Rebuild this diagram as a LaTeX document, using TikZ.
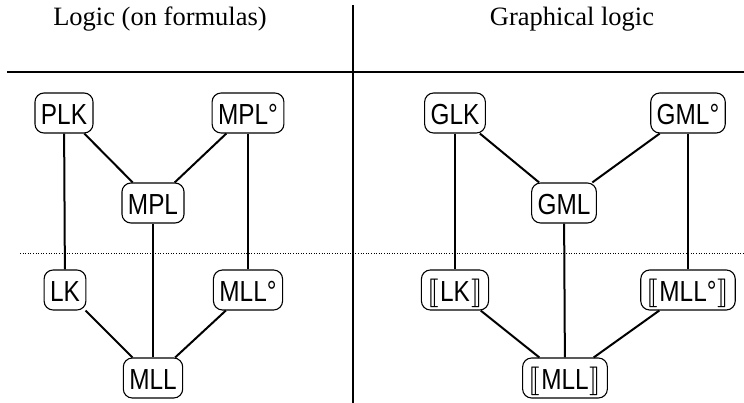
\documentclass[tikz,border=0pt]{standalone}
\usepackage{stmaryrd}
\usepackage{graphicx}
\usepackage{fontspec}
\setmainfont{Liberation Serif}
\setsansfont{Liberation Sans}
\newfontfamily\nodefont[FakeStretch=0.84]{Liberation Sans}
\newcommand{\mylbk}{\raisebox{0.06em}[\height][0pt]{\scalebox{1.15}{$\llbracket$}}\kern0.04em}
\newcommand{\myrbk}{\kern0.04em\raisebox{0.06em}[\height][0pt]{\scalebox{1.15}{$\rrbracket$}}}
\begin{document}
\begin{tikzpicture}[x=1pt,y=-1pt,
  lbox/.style={draw,rounded corners=9pt,line width=1.1pt,font=\nodefont\fontsize{29}{30}\selectfont,
    inner xsep=6pt,inner ysep=0pt,minimum height=40pt,text height=23.5pt,text depth=0pt},
  conn/.style={line width=2pt},
  hdr/.style={font=\fontsize{26.5}{28}\selectfont,anchor=base,inner sep=0pt}]
\useasboundingbox (0,0) rectangle (744,403);
% frame lines
\coordinate (vt) at (353,5);
\coordinate (vb) at (353,403);
\coordinate (hl) at (7,72);
\coordinate (hr) at (744,72);
\coordinate (dl) at (20,253);
\coordinate (dr) at (744,253);
\draw[line width=2pt] (vt) -- (vb);
\draw[line width=2.4pt] (hl) -- (hr);
\draw[dotted,line width=0.6pt] (dl) -- (dr);
% headers
\node[hdr] (h1) at (160,26) {Logic (on formulas)};
\node[hdr] (h2) at (572,26) {Graphical logic};
% left nodes
\node[lbox] (PLK) at (64,113) {PLK};
\node[lbox] (MPLo) at (248,113) {MPL°};
\node[lbox] (MPL) at (153,203) {MPL};
\node[lbox] (LK) at (65,290) {LK};
\node[lbox] (MLLo) at (248,290) {MLL°};
\node[lbox] (MLL) at (153,378) {MLL};
% right nodes
\node[lbox] (GLK) at (455,113) {GLK};
\node[lbox] (GMLo) at (688,113) {GML°};
\node[lbox] (GML) at (564,203) {GML};
\node[lbox] (sLK) at (455,290) {\mylbk LK\myrbk};
\node[lbox] (sMLLo) at (688,290) {\mylbk MLL°\myrbk};
\node[lbox] (sMLL) at (565,378) {\mylbk MLL\myrbk};
% left connectors
\draw[conn] (PLK) -- (MPL);
\draw[conn] (MPLo) -- (MPL);
\draw[conn] (PLK) -- (LK);
\draw[conn] (MPLo) -- (MLLo);
\draw[conn] (MPL) -- (MLL);
\draw[conn] (LK) -- (MLL);
\draw[conn] (MLLo) -- (MLL);
% right connectors
\draw[conn] (GLK) -- (GML);
\draw[conn] (GMLo) -- (GML);
\draw[conn] (GLK) -- (sLK);
\draw[conn] (GMLo) -- (sMLLo);
\draw[conn] (GML) -- (sMLL);
\draw[conn] (sLK) -- (sMLL);
\draw[conn] (sMLLo) -- (sMLL);
\end{tikzpicture}
\end{document}
